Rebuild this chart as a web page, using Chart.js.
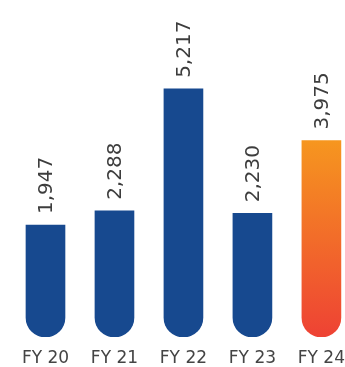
<!DOCTYPE html>
<html>
<head>
<meta charset="utf-8">
<script src="https://cdn.jsdelivr.net/npm/chart.js@4"></script>
<style>
  html, body { margin: 0; padding: 0; background: #fff; overflow: hidden; }
  #wrap { width: 356px; height: 367px; }
</style>
</head>
<body>
<div id="wrap"><canvas id="chart"></canvas></div>
<script>
const years = ["FY 20", "FY 21", "FY 22", "FY 23", "FY 24"];
const values = [1947, 2288, 5217, 2230, 3975];
const valueLabels = ["1,947", "2,288", "5,217", "2,230", "3,975"];

const BLUE = "#17498f";
const BASE = -740; // bars start below zero so the rounded feet sit on the axis line

// bar values written sideways above each bar
const barLabels = {
  id: "barLabels",
  afterDatasetsDraw(chart) {
    const ctx = chart.ctx;
    chart.getDatasetMeta(0).data.forEach((bar, i) => {
      ctx.save();
      ctx.translate(bar.x + 1, bar.y - 11);
      ctx.rotate(-Math.PI / 2);
      ctx.font = "20px 'DejaVu Sans'";
      ctx.fillStyle = "#3d3d3d";
      ctx.textAlign = "left";
      ctx.textBaseline = "middle";
      ctx.fillText(valueLabels[i], 0, 0);
      ctx.restore();
    });
  }
};

function barColor(context) {
  const chart = context.chart;
  if (context.dataIndex !== values.length - 1 || !chart.chartArea) return BLUE;
  const y = chart.scales.y;
  const top = y.getPixelForValue(values[context.dataIndex]);
  const bottom = y.getPixelForValue(BASE);
  const g = chart.ctx.createLinearGradient(0, top, 0, bottom);
  g.addColorStop(0, "#f6961f");
  g.addColorStop(1, "#ee4234");
  return g;
}

new Chart(document.getElementById("chart"), {
  type: "bar",
  data: {
    labels: years,
    datasets: [{
      data: values,
      base: BASE,
      backgroundColor: barColor,
      borderWidth: 0,
      borderSkipped: false,
      borderRadius: { topLeft: 0, topRight: 0, bottomLeft: 20, bottomRight: 20 },
      barThickness: 39
    }]
  },
  options: {
    responsive: true,
    maintainAspectRatio: false,
    animation: false,
    layout: { padding: { left: 11, right: 0, top: 0, bottom: 0 } },
    plugins: { legend: { display: false }, tooltip: { enabled: false } },
    scales: {
      x: {
        grid: { display: false, drawTicks: false },
        border: { display: false },
        afterFit(scale) { scale.height = 30; },
        ticks: {
          color: "#444",
          padding: 11,
          maxRotation: 0,
          minRotation: 0,
          font: { family: "'DejaVu Sans'", size: 17 }
        }
      },
      y: {
        display: false,
        min: BASE,
        max: 7350
      }
    }
  },
  plugins: [barLabels]
});
</script>
</body>
</html>
